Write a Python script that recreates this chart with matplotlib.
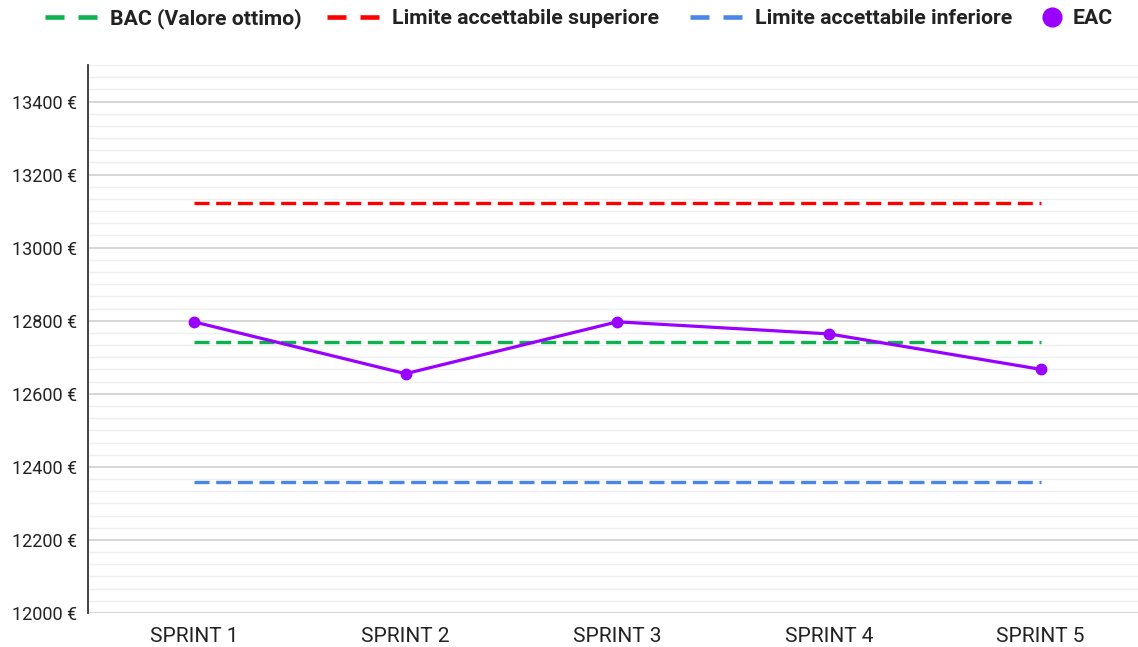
import matplotlib.pyplot as plt
from matplotlib.lines import Line2D
from matplotlib.ticker import MultipleLocator, FuncFormatter

plt.rcParams['font.family'] = ['Roboto', 'DejaVu Sans']

sprints = ['SPRINT 1', 'SPRINT 2', 'SPRINT 3', 'SPRINT 4', 'SPRINT 5']
eac = [12797, 12655, 12797, 12764, 12667]
bac = [12741] * 5
upper = [13123] * 5
lower = [12359] * 5

GREEN = '#0fb14f'
RED = '#ff0000'
BLUE = '#4a86e8'
PURPLE = '#9900ff'

W, H = 1138, 647
fig = plt.figure(figsize=(W / 100, H / 100), dpi=100)
ax = fig.add_axes([88 / W, 34 / H, 1 - 88 / W, (613 - 65) / H])

x = list(range(len(sprints)))
dash = (0, (4.5, 2.0))
ax.plot(x, bac, color=GREEN, lw=2.4, linestyle=dash, zorder=3)
ax.plot(x, upper, color=RED, lw=2.4, linestyle=dash, zorder=3)
ax.plot(x, lower, color=BLUE, lw=2.4, linestyle=dash, zorder=3)
ax.plot(x, eac, color=PURPLE, lw=2.3, marker='o', markersize=7.5, zorder=4)

ax.set_xlim(-0.5, 4.46)
ax.set_ylim(12000, 13500)
ax.set_xticks(x)
ax.set_xticklabels(sprints, fontsize=15, color='#222222')
ax.yaxis.set_major_locator(MultipleLocator(200))
ax.yaxis.set_minor_locator(MultipleLocator(200 / 6))
ax.yaxis.set_major_formatter(FuncFormatter(lambda v, p: f'{int(v)} €'))
ax.tick_params(axis='y', labelsize=13, colors='#222222', length=0, pad=8)
ax.tick_params(axis='y', which='minor', length=0)
ax.tick_params(axis='x', length=0, pad=10)

ax.grid(which='major', axis='y', color='#cccccc', lw=1.1)
ax.grid(which='minor', axis='y', color='#efefef', lw=1.0)
ax.set_axisbelow(True)
for s in ['top', 'right', 'bottom']:
    ax.spines[s].set_visible(False)
ax.spines['left'].set_color('#333333')
ax.spines['left'].set_linewidth(1.3)

# legend drawn by hand (pixel positions of the reference)
def fx(px):
    return px / W

def fy(py):
    return 1 - py / H

legend_items = [
    ('BAC (Valore ottimo)', GREEN, 45),
    ('Limite accettabile superiore', RED, 327),
    ('Limite accettabile inferiore', BLUE, 690),
]
ly = 17
ty = 18.5
for label, col, x0 in legend_items:
    fig.add_artist(Line2D([fx(x0), fx(x0 + 52)], [fy(ly), fy(ly)], color=col,
                          lw=3.3, linestyle=(0, (4.15, 3.05)),
                          solid_capstyle='butt', dash_capstyle='butt'))
    fig.text(fx(x0 + 65), fy(ty), label, fontsize=15.3, fontweight='bold',
             color='#222222', va='center', ha='left')
fig.add_artist(Line2D([fx(1052)], [fy(ly)], color=PURPLE, lw=0, marker='o',
                      markersize=13.5))
fig.text(fx(1073), fy(ty), 'EAC', fontsize=15.3, fontweight='bold',
         color='#222222', va='center', ha='left')

fig.savefig('out.png', dpi=100)
